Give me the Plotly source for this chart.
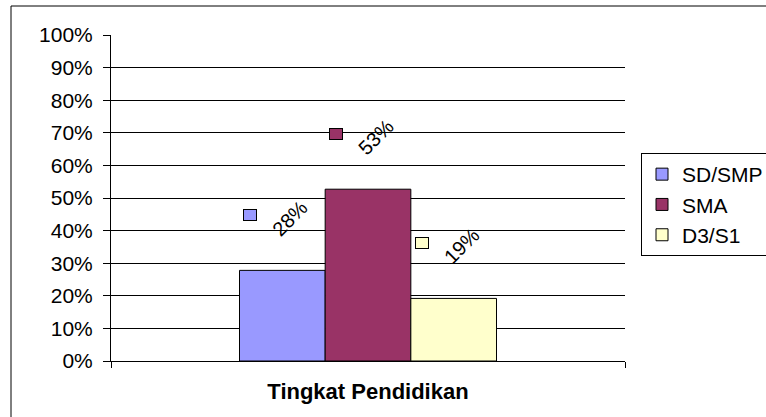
import plotly.graph_objects as go

# ---- data ----
category = ["Tingkat Pendidikan"]
series_names = ["SD/SMP", "SMA", "D3/S1"]
series_values = [0.278, 0.527, 0.192]
series_colors = ["#9999FF", "#993366", "#FFFFCC"]
y_tick_vals = [i / 10 for i in range(11)]
y_tick_text = [f"{i * 10}%" for i in range(11)]

W, H = 766, 417
ML, MR, MT, MB = 111, 141, 35, 56
PW = W - ML - MR
PH = H - MT - MB
BARGAP = 0.5
FONT = "Liberation Sans, Arial, sans-serif"

fig = go.Figure()
for name, val, col in zip(series_names, series_values, series_colors):
    fig.add_trace(go.Bar(
        x=category, y=[val], name=name,
        marker=dict(color=col, line=dict(color="black", width=1)),
        hoverinfo="skip",
    ))

bar_px = PW * (1 - BARGAP) / len(series_names)
annotations = []
n = len(series_names)
for i, (val, col) in enumerate(zip(series_values, series_colors)):
    center = (i - (n - 1) / 2) * bar_px
    # legend key marker next to label
    annotations.append(dict(
        x=category[0], y=val, xref="x", yref="y",
        text=" ", showarrow=False, width=12, height=10,
        bgcolor=col, bordercolor="black", borderwidth=1, borderpad=0,
        xshift=center - 32, yshift=55, font=dict(size=6),
    ))
    annotations.append(dict(
        x=category[0], y=val, xref="x", yref="y",
        text=f"{round(val * 100)}%", showarrow=False, textangle=-45,
        font=dict(family=FONT, size=20, color="black"),
        xshift=center + 8, yshift=52,
    ))

fig.update_layout(
    width=W, height=H,
    margin=dict(l=ML, r=MR, t=MT, b=MB, autoexpand=False),
    paper_bgcolor="white", plot_bgcolor="white",
    barmode="group", bargap=BARGAP, bargroupgap=0,
    font=dict(family=FONT, size=20, color="black"),
    showlegend=True,
    legend=dict(
        x=(641 - ML) / PW, xanchor="left",
        y=(MT + PH - 153) / PH, yanchor="top",
        bordercolor="black", borderwidth=1, bgcolor="white",
        font=dict(family=FONT, size=21, color="black"),
        tracegroupgap=0,
    ),
    annotations=annotations,
    shapes=[dict(
        type="rect", xref="paper", yref="paper",
        x0=(11 - ML) / PW, x1=(W + 20 - ML) / PW,
        y0=-(MB + 20) / PH, y1=(MT + PH - 6) / PH,
        line=dict(color="black", width=1), fillcolor="rgba(0,0,0,0)",
        layer="below",
    )],
)

fig.update_yaxes(
    range=[0, 1], tickvals=y_tick_vals, ticktext=y_tick_text,
    showgrid=True, gridcolor="black", gridwidth=1,
    showline=True, linecolor="black", linewidth=1,
    ticks="outside", ticklen=7, tickcolor="black",
    tickfont=dict(family=FONT, size=21, color="black"),
    ticklabelstandoff=6,
    zeroline=False, fixedrange=True,
)
fig.update_xaxes(
    type="category", tickson="boundaries",
    showline=True, linecolor="black", linewidth=1,
    ticks="outside", ticklen=6, tickcolor="black",
    showticklabels=False, showgrid=False,
    title=dict(text="Tingkat Pendidikan",
               font=dict(family=FONT, size=22, color="black", weight="bold"),
               standoff=22),
    fixedrange=True,
)

fig.write_html(
    "out.html",
    config={"displayModeBar": False},
    post_script="document.body.style.margin='0';document.body.style.padding='0';",
)
